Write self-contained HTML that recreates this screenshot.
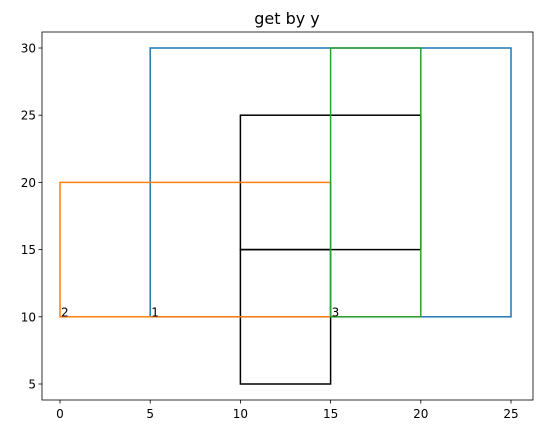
<!DOCTYPE html>
<html><head><meta charset="utf-8"><style>
body{margin:0;background:#fff;}
svg{display:block;font-family:"DejaVu Sans","Liberation Sans",sans-serif;}
</style></head><body>
<svg id="c" width="543" height="435">
<text x="287" y="24" font-size="16" text-anchor="middle">get by y</text>
<g id="plot"></g>
<rect x="42" y="32" width="491" height="368" fill="none" stroke="#000" stroke-width="0.8"/>
</svg>
<script>
const xTicks=[0,5,10,15,20,25];
const yTicks=[5,10,15,20,25,30];
const blackRects=[[10,5,15,15],[10,15,20,25]];
const blueRect=[5,10,25,30];
const orangeRect=[0,10,15,20];
const greenRect=[15,10,20,30];
const labels=["2","1","3"];
const labelX=[0,5,15];
const labelY=[10,10,10];
const X=v=>60+v*18.04, Y=v=>384-(v-5)*13.44;
const ns="http://www.w3.org/2000/svg";
const svg=document.getElementById('c'), g=document.getElementById('plot');
function mk(t,a,p){const e=document.createElementNS(ns,t);for(const k in a)e.setAttribute(k,a[k]);(p||g).appendChild(e);return e;}
xTicks.forEach(v=>{
 const l=mk('line',{x1:X(v),x2:X(v),y1:400,y2:403.5,stroke:'#000','stroke-width':0.8},svg);
 
 
 const t=mk('text',{x:X(v),y:418,'font-size':12,'text-anchor':'middle'},svg);t.textContent=v;
 
 
});
yTicks.forEach(v=>{
 const l=mk('line',{x1:38.5,x2:42,y1:Y(v),y2:Y(v),stroke:'#000','stroke-width':0.8},svg);
 
 
 const t=mk('text',{x:36,y:Y(v)+4.5,'font-size':12,'text-anchor':'end'},svg);t.textContent=v;
 
 
});
function rect(r,c,name){
 const e=mk('rect',{x:X(r[0]),y:Y(r[3]),width:X(r[2])-X(r[0]),height:Y(r[1])-Y(r[3]),fill:'none',stroke:c,'stroke-width':1.5});
 
 
}
blackRects.forEach(r=>rect(r,'#000','black-rect'));
rect(blueRect,'#1f77b4','blue-rect');
rect(orangeRect,'#ff7f0e','orange-rect');
rect(greenRect,'#2ca02c','green-rect');
labels.forEach((s,i)=>{
 const t=mk('text',{x:X(labelX[i])+1,y:Y(labelY[i])-0.5,'font-size':12});t.textContent=s;
 
 
});
</script>
</body></html>
